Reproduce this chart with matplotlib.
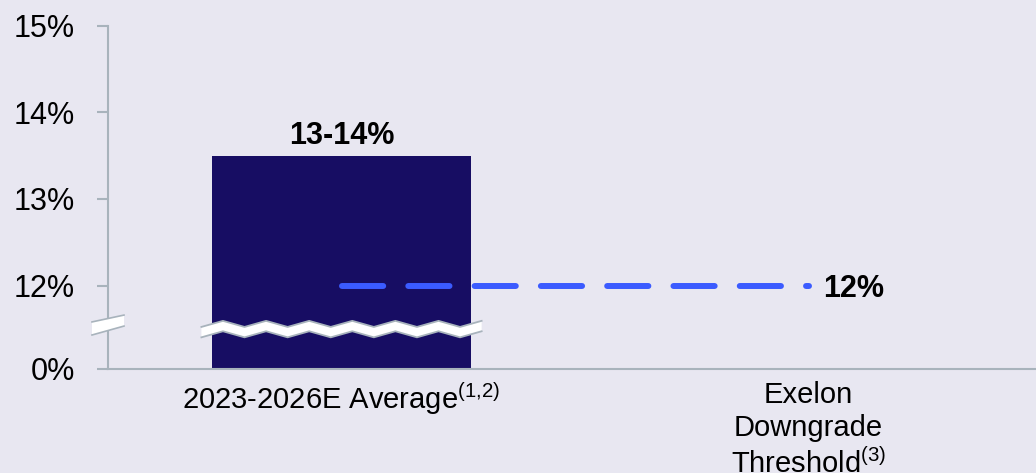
import numpy as np
import matplotlib
matplotlib.use("Agg")
import matplotlib.pyplot as plt
from matplotlib.patches import Polygon

plt.rcParams["font.family"] = ["Liberation Sans", "DejaVu Sans"]
plt.rcParams["mathtext.fontset"] = "custom"
plt.rcParams["mathtext.rm"] = "Liberation Sans"
plt.rcParams["mathtext.it"] = "Liberation Sans"

# data
categories = ["2023-2026E Average$^{(1{,}2)}$", "Exelon\nDowngrade\nThreshold$^{(3)}$"]
bar_value = 13.5          # midpoint of the 13-14% range
bar_label = "13-14%"
threshold = 12.0
threshold_label = "12%"
# y axis is broken: the bottom of the axis stands for 0%
y_floor = 11.04
ytick_pos = [y_floor, 12, 13, 14, 15]
ytick_labels = ["0%", "12%", "13%", "14%", "15%"]

bg = "#E8E7F1"
bar_color = "#170D63"
dash_color = "#3B5BFF"
axis_gray = "#A8B3BC"

fig = plt.figure(figsize=(10.36, 4.73), dpi=100, facecolor=bg)
ax = fig.add_axes([108 / 1036, 104 / 473, 928 / 1036, 343.5 / 473], facecolor=bg)

x = np.arange(len(categories))
ax.bar(x[0], bar_value, width=0.555, color=bar_color, zorder=2)
ax.annotate(bar_label, (x[0], bar_value), xytext=(0, 8.6), textcoords="offset points",
            ha="center", va="baseline", fontsize=22, fontweight="bold")

# threshold dashed line
ax.plot([x[0], x[1]], [threshold, threshold], color=dash_color, lw=4.3,
        dashes=(6.9, 4.2), dash_capstyle="round", zorder=3)
ax.text(x[1] + 0.031, threshold, threshold_label, ha="left", va="center_baseline",
        fontsize=22, fontweight="bold")

# zigzag break across the bar
zx = np.linspace(-0.3, 0.3, 14)
zy = 11.5 + np.where(np.arange(len(zx)) % 2 == 0, -0.035, 0.035)
h = 0.06
ax.add_patch(Polygon(np.column_stack([np.r_[zx, zx[::-1]], np.r_[zy + h, (zy - h)[::-1]]]),
                     closed=True, facecolor="white", edgecolor="none", zorder=4))
ax.plot(zx, zy + h, color=axis_gray, lw=1.3, zorder=5)
ax.plot(zx, zy - h, color=axis_gray, lw=1.3, zorder=5)

ax.set_xlim(-0.5, 1.487)
ax.set_ylim(y_floor, 15)
ax.set_yticks(ytick_pos, ytick_labels)
ax.set_xticks(x, categories)
ax.tick_params(axis="y", length=8, width=1.5, color=axis_gray, pad=16, labelsize=22)
ax.tick_params(axis="x", length=0, pad=8.5, labelsize=21)
for lab in ax.get_xticklabels():
    lab.set_linespacing(1.25)

for s in ["top", "right"]:
    ax.spines[s].set_visible(False)
for s in ["left", "bottom"]:
    ax.spines[s].set_color(axis_gray)
    ax.spines[s].set_linewidth(1.5)

# axis break marker on the y axis
bx0, bx1 = -16 / 928, 16 / 928
ax.add_patch(Polygon([(bx0, 0.099), (bx1, 0.125), (bx1, 0.157), (bx0, 0.137)],
                     closed=True, transform=ax.transAxes, facecolor="white",
                     edgecolor="none", clip_on=False, zorder=6))
ax.plot([bx0, bx1], [0.099, 0.125], transform=ax.transAxes, color=axis_gray,
        lw=1.2, clip_on=False, zorder=7)
ax.plot([bx0, bx1], [0.137, 0.157], transform=ax.transAxes, color=axis_gray,
        lw=1.2, clip_on=False, zorder=7)

fig.savefig("out.png", dpi=100, facecolor=bg)
